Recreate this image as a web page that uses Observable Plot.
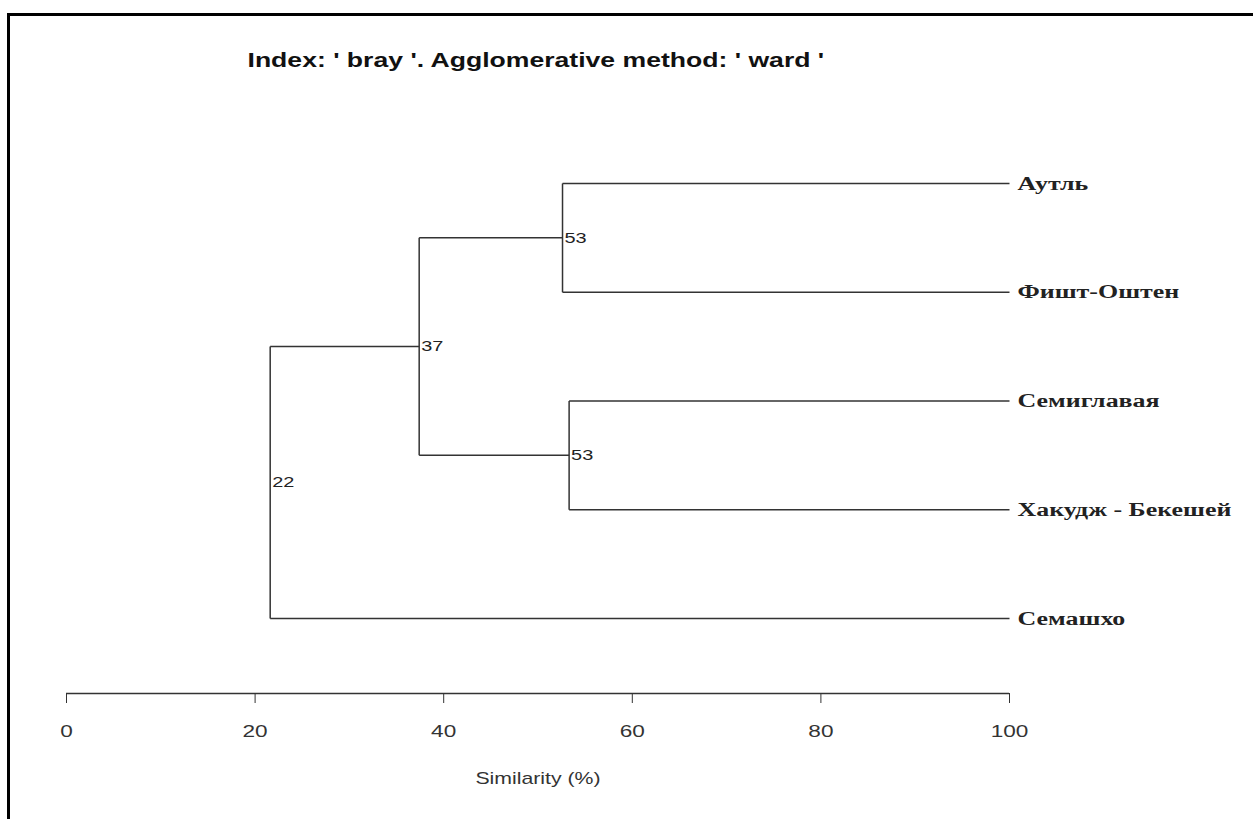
<!DOCTYPE html>
<html>
<head>
<meta charset="utf-8">
<script src="https://cdn.jsdelivr.net/npm/d3@7"></script>
<script src="https://cdn.jsdelivr.net/npm/@observablehq/plot@0.6"></script>
<style>
  html, body { margin: 0; padding: 0; background: #fff; }
  #wrap { position: relative; width: 1253px; height: 819px; overflow: hidden; }
  #border { position: absolute; left: 7px; top: 13px; right: -10px; bottom: -10px;
            border-left: 3px solid #000; border-top: 3px solid #000; pointer-events: none; }
  svg { display: block; }
</style>
</head>
<body>
<div id="wrap"><div id="border"></div></div>
<script>
// ---- data ----
const titleText = "Index: ' bray '. Agglomerative method: ' ward '";
const xLabel = "Similarity (%)";
const leaves = ["Аутль", "Фишт-Оштен", "Семиглавая", "Хакудж - Бекешей", "Семашхо"];
const nodeIds = ["A", "B", "C", "D"];
const nodeLeft = ["Аутль", "Семиглавая", "A", "C"];
const nodeRight = ["Фишт-Оштен", "Хакудж - Бекешей", "B", "Семашхо"];
const nodeSimilarity = [52.6, 53.3, 37.4, 21.6];
const xTicks = [0, 20, 40, 60, 80, 100];

// ---- build tree geometry (in data units) ----
const pos = new Map();
leaves.forEach((name, i) => pos.set(name, {x: 100, y: i + 1}));
const links = [];
const nodeLabels = [];
nodeIds.forEach((id, i) => {
  const a = pos.get(nodeLeft[i]), b = pos.get(nodeRight[i]);
  const h = nodeSimilarity[i];
  const y = (a.y + b.y) / 2;
  pos.set(id, {x: h, y});
  links.push({x1: h, y1: a.y, x2: h, y2: b.y});
  links.push({x1: h, y1: a.y, x2: a.x, y2: a.y});
  links.push({x1: h, y1: b.y, x2: b.x, y2: b.y});
  nodeLabels.push({x: h, y, label: String(Math.round(h))});
});
const leafData = leaves.map((name, i) => ({name, y: i + 1}));

const sans = "'Liberation Sans', Arial, sans-serif";
const yMax = 5.69; // axis sits below the last leaf
const chart = Plot.plot({
  width: 1253,
  height: 819,
  marginLeft: 66,
  marginRight: 244,
  marginTop: 183,
  marginBottom: 126,
  style: {background: "transparent", fontFamily: sans},
  x: {domain: [0, 100]},
  y: {domain: [1, yMax], reverse: true, axis: null},
  marks: [
    Plot.link(links, {x1: "x1", y1: "y1", x2: "x2", y2: "y2", stroke: "#333", strokeWidth: 1.5}),
    Plot.text(nodeLabels, {x: "x", y: "y", text: "label", textAnchor: "start", dx: 2, fontSize: 15, fill: "#222"}),
    Plot.text(leafData, {x: () => 100, y: "y", text: "name", textAnchor: "start", dx: 8,
      fontSize: 19.5, fontWeight: "bold", fill: "#222",
      fontFamily: "'Liberation Serif', 'Times New Roman', serif"}),
    Plot.ruleY([yMax], {stroke: "#333", strokeWidth: 1.5}),
    Plot.axisX(xTicks, {tickSize: 10, tickPadding: 21, fontSize: 17, label: null, stroke: "#333",
      fill: "#333", fontFamily: sans}),
    Plot.text([xLabel], {frameAnchor: "bottom", dy: 90, text: d => d, fontSize: 16, fill: "#333"}),
    Plot.text([titleText], {frameAnchor: "top-left", dx: 181, dy: -131, text: d => d, textAnchor: "start",
      fontSize: 20, fontWeight: "bold", fill: "#111"})
  ]
});

// the reference picture is horizontally stretched: widen every glyph around its anchor
const stretch = 1.33;
chart.querySelectorAll("text").forEach(t => {
  const tr = t.getAttribute("transform");
  if (tr && /translate/.test(tr)) {
    t.setAttribute("transform", tr + ` scale(${stretch},1)`);
  } else {
    const x = +(t.getAttribute("x") || 0), y = +(t.getAttribute("y") || 0);
    t.removeAttribute("x"); t.removeAttribute("y");
    t.setAttribute("transform", `${tr || ""} translate(${x},${y}) scale(${stretch},1)`);
  }
});
document.getElementById("wrap").prepend(chart);
</script>
</body>
</html>
